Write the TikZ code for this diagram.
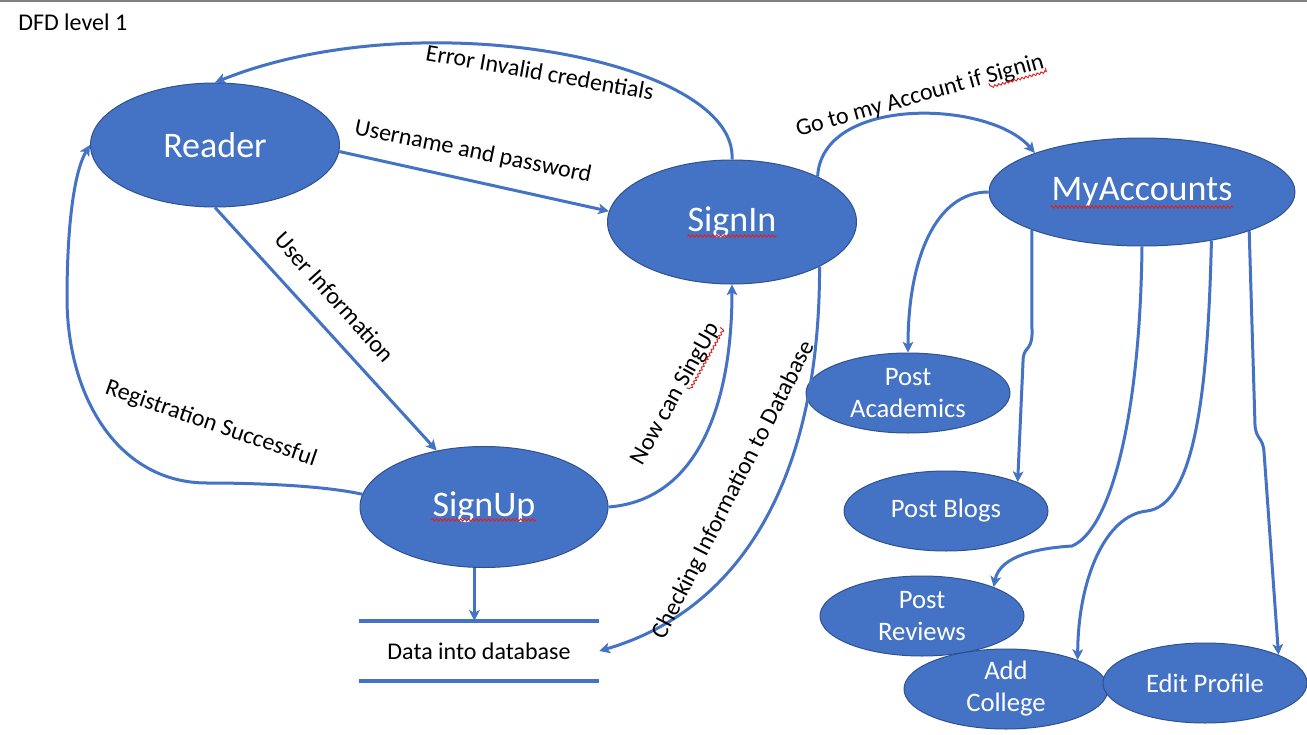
\documentclass[tikz,border=0pt]{standalone}
\usepackage{fontspec}
\setmainfont{Carlito}
\usetikzlibrary{shapes.geometric,arrows.meta,calc,decorations.pathmorphing}
\definecolor{blu}{HTML}{4472C4}
\definecolor{bord}{HTML}{2F528F}
\definecolor{spell}{HTML}{E02020}
\begin{document}
\begin{tikzpicture}[x=0.75pt,y=-0.75pt,
  bubble/.style={ellipse, fill=blu, draw=bord, line width=0.75pt, text=white, inner sep=0pt, align=center},
  bigb/.style={bubble, font=\fontsize{27}{32}\selectfont},
  smallb/.style={bubble, font=\fontsize{20}{24}\selectfont, minimum width=153pt, minimum height=60pt},
  lab/.style={font=\fontsize{18}{22}\selectfont, inner sep=0pt, text=black},
  flow/.style={draw=blu, line width=2.25pt, -{Stealth[length=8pt,width=8pt,inset=2pt]}},
  squig/.style={draw=spell, line width=0.7pt, decorate, decoration={snake, amplitude=0.9pt, segment length=3pt}},
  squigl/.style={draw=spell, line width=0.7pt, decorate, decoration={snake, amplitude=0.8pt, segment length=3pt, raise=-3pt}}
]
\fill[white] (0,0) rectangle (1307,735);
\useasboundingbox (0,0) rectangle (1307,735);
\draw[gray, line width=1.5pt] (0,1) -- (1307,1);

\node[lab, anchor=base west] (title) at (18,31) {DFD level 1};

% processes
\node[bigb, minimum width=186.75pt, minimum height=93pt] (reader) at (215,145) {Reader};
\node[bigb, minimum width=186.75pt, minimum height=93pt] (signin) at (732,222) {SignIn};
\node[bigb, minimum width=186pt, minimum height=90.75pt] (signup) at (484,507) {SignUp};
\node[bigb, minimum width=229.5pt, minimum height=81pt] (myacc) at (1142,192) {MyAccounts};

\node[smallb] (pa) at (908,393) {Post\\Academics};
\node[smallb] (pb) at (946,511) {Post Blogs};
\node[smallb] (pr) at (922,616) {Post\\Reviews};
\node[smallb] (ac) at (1006,689) {Add\\College};
\node[smallb] (ep) at (1205,683) {Edit Profile};

% spelling marks
\draw[squig] ([xshift=-33.4pt, yshift=-10.5pt]signin.center) -- ([xshift=33.4pt, yshift=-10.5pt]signin.center);
\draw[squig] ([xshift=-39.4pt, yshift=-9.75pt]signup.center) -- ([xshift=39.4pt, yshift=-9.75pt]signup.center);
\draw[squig] ([xshift=-68.6pt, yshift=-11.25pt]myacc.center) -- ([xshift=68.6pt, yshift=-11.25pt]myacc.center);

% data store
\node[lab, minimum width=180pt, minimum height=45pt] (store) at (479,651) {Data into database};
\draw[blu, line width=3pt] (store.north west) -- (store.north east);
\draw[blu, line width=3pt] (store.south west) -- (store.south east);

% connectors
\draw[flow] (signin.north) .. controls (738,60) and (420,0) .. (reader.north);
\draw[flow] (reader.357) -- (signin.175);
\draw[flow] (reader.south) -- (signup.130);
\draw[flow] (signup.174) .. controls (320,485) and (250,483) .. (207,483)
   .. controls (120,483) and (68,400) .. (67,300)
   .. controls (67,220) and (75,170) .. (reader.west);
\draw[flow] (signup.east) .. controls (700,500) and (732,400) .. (signin.south);
\draw[flow] (signin.333) .. controls (820,480) and (740,610) .. (store.east);
\draw[flow] (signup.261) -- (signup.261 |- store.north);
\draw[flow] (signin.28) .. controls (822,95) and (990,100) .. (myacc.160);

\draw[flow] (myacc.west) .. controls (935,192) and (908,260) .. (pa.north);
\draw[flow] (myacc.199) -- (1032,335) .. controls (1031,352) and (1023,346) .. (1023,362) -- (pb.22);
\draw[flow] (myacc.south) .. controls (1140,420) and (1110,530) .. (1072,546)
   .. controls (1040,548) and (1000,555) .. (pr.22);
\draw[flow] (myacc.325) .. controls (1208,390) and (1195,505) .. (1147,511)
   .. controls (1105,515) and (1078,580) .. (ac.22);
\draw[flow] (myacc.340) -- (1255,425) .. controls (1256,440) and (1263,437) .. (1264,452) -- (ep.21);

% labels
\node[lab, rotate=-10] (lerr) at (540,72) {Error Invalid credentials};
\node[lab, rotate=-11.5] (luser) at (473,152) {Username and password};
\node[lab, rotate=-48] (linfo) at (335,297) {User Information};
\node[lab, rotate=-19] (lreg) at (211,424) {Registration Successful};
\node[lab, rotate=61] (lnow) at (676,394) {Now can SingUp};
\node[lab, rotate=63] (lcheck) at (734,490) {Checking Information to Database};
\node[lab, rotate=15.5] (lgoto) at (920,96) {Go to my Account if Signin};
\draw[squigl] ($(lnow.base east)!51.75pt!(lnow.base west)$) -- (lnow.base east);
\draw[squigl] ($(lgoto.base east)!43.9pt!(lgoto.base west)$) -- (lgoto.base east);
\end{tikzpicture}
\end{document}
